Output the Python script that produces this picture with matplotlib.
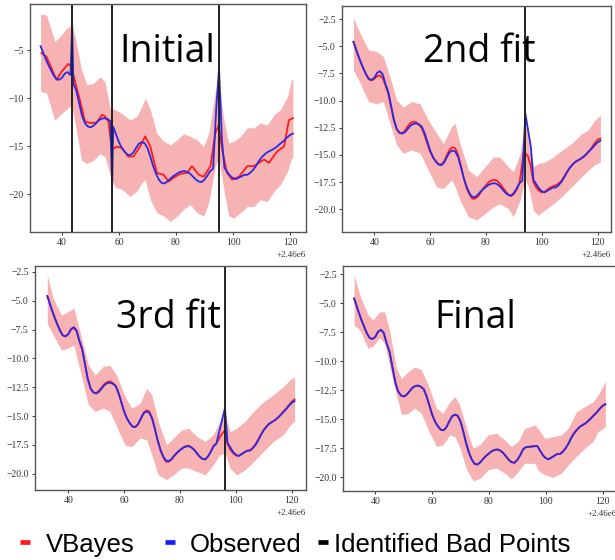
import numpy as np
import matplotlib
matplotlib.use("Agg")
import matplotlib.pyplot as plt
from matplotlib.lines import Line2D

OFFSET = 2.46e6

# ---------------- observed light curve (clean part) ----------------
obs_t = [32.5, 33, 34, 35, 36, 37, 38, 39, 40, 41, 42, 43, 44, 45, 46, 47, 48, 49, 50,
         51, 52, 53, 54, 55, 56, 57, 58, 59, 60, 61, 62, 63, 64, 65, 66, 67, 68, 69, 70,
         71, 72, 73, 74, 75, 76, 77, 78, 79, 80, 81, 82, 83, 84, 85, 86, 87, 88, 89, 90,
         91, 92, 93, 97, 98, 99, 100, 101, 102, 103, 104, 105, 106, 107, 108, 109, 110,
         111, 112, 113, 114, 115, 116, 117, 118, 119, 120, 121]
obs_v = [-4.6, -4.95, -5.7, -6.4, -7.0, -7.6, -8.0, -8.1, -7.9, -7.45, -7.3, -7.6, -8.5, -9.2,
         -10.5, -11.8, -12.6, -12.95, -13.05, -12.9, -12.6, -12.3, -12.15, -12.1, -12.2, -12.4,
         -13.0, -13.8, -14.6, -15.2, -15.6, -15.9, -15.95, -15.7, -15.2, -14.75, -14.6, -14.7,
         -15.2, -16.1, -17.1, -17.9, -18.5, -18.85, -18.9, -18.7, -18.4, -18.15, -17.95, -17.75,
         -17.65, -17.6, -17.7, -17.9, -18.2, -18.5, -18.7, -18.75, -18.5, -18.1, -17.6, -17.4,
         -17.3, -17.7, -18.1, -18.35, -18.45, -18.3, -18.15, -18.0, -18.0, -17.8, -17.5, -17.1,
         -16.6, -16.2, -15.9, -15.65, -15.5, -15.35, -15.15, -14.9, -14.65, -14.4, -14.1,
         -13.85, -13.7]

# outlying observations (bad points)
bad_t = [43.6, 57.6, 94.1, 95.1, 96.1]
bad_v = [-2.4, -19.4, -11.2, -6.9, -14.3]

# bad points still present in each panel / identified in each panel
present_bad = {"Initial": [43.6, 57.6, 94.1, 95.1, 96.1],
               "2nd fit": [94.1, 96.1],
               "3rd fit": [96.1],
               "Final": []}
identified_bad = {"Initial": [43.6, 57.6, 95.1],
                  "2nd fit": [94.1],
                  "3rd fit": [96.1],
                  "Final": []}

# ---------------- VBayes mean per fit ----------------
vb1_t = [32.8, 34.6, 38.1, 39.9, 42.2, 43.4, 44.6, 46.3, 48.1, 49.9, 52.2, 54.0, 55.1, 56.3,
         57.5, 59.2, 61.0, 63.3, 65.1, 67.4, 69.2, 71.0, 73.3, 75.7, 77.4, 79.2, 81.5, 83.9,
         85.6, 88.0, 89.7, 92.1, 93.8, 95.0, 96.2, 97.9, 99.7, 102.1, 105.0, 107.3, 110.9,
         112.6, 115.5, 117.9, 119.6, 121.0]
vb1_v = [-5.3, -5.7, -8.1, -7.25, -6.45, -6.7, -8.3, -10.2, -12.45, -12.6, -12.55, -11.75,
         -11.9, -12.45, -15.4, -15.05, -15.2, -16.1, -16.1, -15.05, -14.0, -15.05, -17.8, -18.0,
         -18.7, -18.3, -17.9, -17.8, -17.1, -18.0, -18.2, -17.1, -13.65, -12.8, -15.4, -17.8,
         -18.5, -18.2, -17.1, -17.1, -16.4, -16.75, -15.55, -15.05, -12.3, -12.1]

vb2_t = [32.5, 34, 36, 38, 39, 40, 41, 42, 43, 44, 45, 46, 47, 48, 49, 50, 51, 52, 53, 54, 55,
         56, 57, 58, 59, 60, 61, 62, 63, 64, 65, 66, 67, 68, 69, 70, 71, 72, 73, 74, 75, 76, 77,
         78, 79, 80, 81, 82, 83, 84, 85, 86, 87, 88, 89, 90, 91, 92, 93, 93.5, 95, 96, 97, 98,
         99, 100, 101, 102, 103, 104, 105, 106, 107, 108, 109, 110, 111, 112, 113, 114, 115,
         116, 117, 118, 119, 120, 121]
vb2_v = [-4.6, -5.75, -7.05, -8.05, -8.15, -8.0, -7.75, -7.7, -7.95, -8.6, -9.4, -10.6, -11.8,
         -12.65, -13.0, -13.0, -12.75, -12.35, -12.05, -11.95, -12.0, -12.25, -12.55, -13.2,
         -14.0, -14.7, -15.25, -15.6, -15.85, -15.9, -15.6, -15.0, -14.5, -14.3, -14.4, -15.0,
         -16.0, -17.1, -18.0, -18.6, -19.0, -19.05, -18.85, -18.5, -18.1, -17.8, -17.5, -17.35,
         -17.3, -17.4, -17.65, -18.0, -18.35, -18.65, -18.8, -18.6, -18.2, -17.6, -15.8, -14.75,
         -15.1, -16.0, -17.5, -18.0, -18.3, -18.45, -18.4, -18.2, -18.0, -17.9, -17.8, -17.65,
         -17.4, -17.0, -16.6, -16.2, -15.9, -15.65, -15.5, -15.35, -15.2, -14.95, -14.65, -14.3,
         -13.9, -13.6, -13.5]

vb3_t = [32.5, 34, 36, 38, 39, 40, 41, 42, 43, 44, 45, 46, 47, 48, 49, 50, 51, 52, 53, 54, 55,
         56, 57, 58, 59, 60, 61, 62, 63, 64, 65, 66, 67, 68, 69, 70, 71, 72, 73, 74, 75, 76, 77,
         78, 79, 80, 81, 82, 83, 84, 85, 86, 87, 88, 89, 90, 91, 92, 93, 94, 95, 96, 97, 98,
         99, 100, 101, 102, 103, 104, 105, 106, 107, 108, 109, 110, 111, 112, 113, 114, 115,
         116, 117, 118, 119, 120, 121]
vb3_v = [-4.6, -5.7, -7.0, -8.0, -8.1, -7.9, -7.5, -7.35, -7.65, -8.5, -9.25, -10.5, -11.8,
         -12.6, -12.95, -13.0, -12.8, -12.5, -12.2, -12.05, -12.0, -12.15, -12.4, -13.0, -13.8,
         -14.6, -15.2, -15.6, -15.9, -15.95, -15.7, -15.2, -14.7, -14.5, -14.6, -15.15, -16.1,
         -17.1, -17.95, -18.55, -18.95, -18.95, -18.75, -18.45, -18.15, -17.95, -17.75, -17.6,
         -17.55, -17.7, -17.9, -18.2, -18.5, -18.7, -18.75, -18.5, -18.1, -17.6, -17.35, -16.95,
         -16.55, -16.25, -17.4, -17.9, -18.2, -18.4, -18.45, -18.3, -18.15, -18.0, -17.95,
         -17.75, -17.45, -17.05, -16.6, -16.2, -15.9, -15.65, -15.5, -15.35, -15.15, -14.9,
         -14.6, -14.35, -14.05, -13.75, -13.55]

# ---------------- credible band per fit ----------------
band1_t = [32.5, 34.6, 37.5, 39.3, 41.6, 43.4, 44.6, 46.9, 48.7, 51.0, 53.4, 55.1, 56.9, 58.7,
           61.0, 64.0, 66.3, 68.0, 69.2, 71.0, 73.3, 75.7, 78.0, 80.4, 82.7, 85.0, 87.4, 89.7,
           91.5, 93.8, 95.0, 96.8, 98.5, 100.3, 102.6, 105.0, 107.3, 109.6, 112.0, 114.4,
           116.7, 119.1, 120.5, 121.0]
band1_up = [-1.26, -1.36, -4.1, -3.6, -2.75, -2.4, -3.6, -7.1, -8.6, -8.5, -7.8, -8.3, -11.1,
            -11.2, -11.6, -12.3, -11.9, -10.9, -10.0, -11.2, -13.7, -14.5, -14.9, -14.35, -13.7,
            -14.0, -14.35, -15.05, -13.65, -9.3, -8.1, -12.3, -14.7, -14.5, -14.0, -13.1, -13.1,
            -12.6, -12.8, -11.75, -11.2, -9.85, -8.1, -8.1]
band1_lo = [-9.3, -9.5, -12.3, -11.75, -11.2, -10.7, -12.6, -16.5, -16.8, -16.5, -15.8, -16.1,
            -18.0, -19.3, -19.5, -20.25, -19.7, -18.85, -18.5, -20.6, -21.95, -22.3, -22.85,
            -22.3, -21.6, -21.1, -21.95, -22.3, -20.9, -17.1, -16.25, -19.55, -22.3, -22.5,
            -21.95, -21.3, -21.3, -20.6, -20.8, -19.7, -19.0, -17.65, -16.25, -16.25]

band2_t = [32.5, 34.9, 37.9, 40.8, 43.2, 45.6, 48.0, 50.4, 53.4, 56.4, 59.3, 62.3, 64.7, 67.7,
           68.9, 70.7, 73.7, 76.7, 79.6, 82.6, 85.0, 88.0, 89.8, 92.2, 94.0, 95.2, 97.0, 98.7,
           101.1, 104.1, 107.1, 110.7, 114.3, 116.7, 119.0, 121.0]
band2_up = [-2.45, -3.8, -5.35, -5.5, -5.95, -7.8, -9.95, -10.6, -10.1, -10.3, -11.8, -13.0,
            -13.95, -12.4, -12.1, -13.95, -16.4, -17.0, -16.1, -15.2, -15.2, -16.1, -16.55,
            -14.9, -12.1, -12.9, -16.1, -15.8, -15.65, -15.2, -14.6, -13.95, -13.05, -12.7,
            -11.8, -11.35]
band2_lo = [-7.2, -8.4, -10.1, -10.3, -10.1, -12.1, -14.1, -14.85, -14.55, -14.85, -16.4,
            -17.95, -18.1, -17.3, -17.9, -19.2, -20.7, -21.0, -20.4, -19.8, -19.5, -19.95,
            -20.7, -19.2, -17.2, -17.95, -20.1, -20.55, -20.1, -19.5, -18.85, -17.95, -17.0,
            -16.4, -15.9, -15.65]

band3_t = [32.5, 34.6, 37.6, 40.0, 42.0, 44.2, 47.2, 49.6, 52.5, 54.9, 57.3, 60.3, 62.7, 65.7,
           68.1, 69.9, 72.2, 75.2, 77.6, 80.6, 83.0, 86.0, 89.0, 91.9, 94.3, 96.1, 97.9, 100.3,
           103.3, 106.3, 109.9, 113.4, 117.0, 119.4, 121.0]
band3_up = [-2.8, -4.8, -6.25, -5.95, -5.65, -7.7, -10.55, -11.45, -10.7, -10.6, -11.45, -13.3,
            -14.3, -13.9, -12.6, -13.15, -15.45, -17.5, -16.9, -16.2, -16.05, -16.75, -17.2,
            -16.6, -15.45, -14.9, -16.35, -16.05, -15.45, -14.6, -13.75, -13.15, -12.45, -11.85,
            -11.6]
band3_lo = [-7.0, -7.95, -9.3, -9.1, -8.85, -11.0, -14.0, -14.6, -14.3, -14.6, -15.9, -17.5,
            -17.65, -16.9, -17.05, -18.35, -20.1, -20.5, -20.1, -19.5, -19.5, -19.8, -20.1,
            -19.2, -18.35, -18.2, -19.5, -20.1, -19.65, -18.95, -18.05, -17.2, -16.6, -15.8,
            -15.45]

band4_t = [32.5, 34.5, 37.4, 39.2, 41.5, 43.3, 45.1, 47.4, 49.2, 51.5, 53.9, 56.2, 58.6, 61.5,
           63.8, 66.2, 68.0, 69.7, 72.1, 74.4, 76.8, 79.7, 82.6, 85.6, 87.9, 90.3, 92.6, 96.2,
           97.3, 99.7, 102.6, 105.5, 107.9, 110.8, 113.8, 116.7, 118.5, 121.0]
band4_up = [-2.6, -4.3, -6.0, -6.45, -5.75, -5.75, -7.45, -10.6, -11.5, -10.9, -10.5, -10.75,
            -12.05, -14.05, -14.5, -13.5, -13.05, -13.75, -15.8, -17.5, -17.2, -16.35, -16.2,
            -16.8, -17.35, -16.9, -15.8, -15.5, -15.8, -16.65, -16.5, -16.35, -15.8, -14.35,
            -13.9, -13.5, -12.9, -11.75]
band4_lo = [-6.9, -7.3, -8.9, -8.7, -8.0, -8.5, -10.5, -12.9, -14.6, -14.5, -14.05, -14.5,
            -15.9, -17.35, -17.2, -16.35, -16.5, -17.4, -19.3, -20.3, -20.1, -19.35, -19.2,
            -19.65, -20.15, -19.5, -18.8, -18.8, -19.4, -19.8, -20.0, -19.65, -18.95, -18.2,
            -17.5, -16.9, -16.05, -15.65]

panels = ["Initial", "2nd fit", "3rd fit", "Final"]
legend_labels = ["VBayes", "Observed", "Identified Bad Points"]
legend_colors = ["#ff1a1a", "#1a1aff", "black"]

vb_t = {"Initial": vb1_t, "2nd fit": vb2_t, "3rd fit": vb3_t, "Final": obs_t}
vb_v = {"Initial": vb1_v, "2nd fit": vb2_v, "3rd fit": vb3_v, "Final": obs_v}
bands = {"Initial": (band1_t, band1_up, band1_lo), "2nd fit": (band2_t, band2_up, band2_lo),
         "3rd fit": (band3_t, band3_up, band3_lo), "Final": (band4_t, band4_up, band4_lo)}

# ---------------- layout ----------------
W, H = 615, 560
rects_px = {"Initial": (30, 4, 306, 232), "2nd fit": (342, 6, 611, 232),
            "3rd fit": (35, 266, 306, 490), "Final": (343, 266, 617, 491)}
xlims = {"Initial": (28.8, 125.6), "2nd fit": (28.4, 124.8),
         "3rd fit": (28.1, 125.1), "Final": (28.6, 125.1)}
ylims = {"Initial": (-23.96, -0.2), "2nd fit": (-22.1, -1.3),
         "3rd fit": (-21.4, -2.0), "Final": (-21.18, -1.81)}
yticks = {"Initial": [-20, -15, -10, -5],
          "2nd fit": [-20, -17.5, -15, -12.5, -10, -7.5, -5, -2.5],
          "3rd fit": [-20, -17.5, -15, -12.5, -10, -7.5, -5, -2.5],
          "Final": [-20, -17.5, -15, -12.5, -10, -7.5, -5, -2.5]}
# title centre x and baseline y (pixels)
title_pos = {"Initial": (167, 62), "2nd fit": (479, 62), "3rd fit": (168, 328),
             "Final": (475, 328)}

fig = plt.figure(figsize=(W / 100, H / 100), dpi=100)

RED = "#ff1a1a"
BLUE = "#2a2ae6"
serif = "Liberation Serif"

for name in panels:
    l, t, r, b = rects_px[name]
    ax = fig.add_axes([l / W, 1 - b / H, (r - l) / W, (b - t) / H])
    bt, up, lo = bands[name]
    ax.fill_between(np.array(bt) + OFFSET, up, lo, color="#f59a9a", alpha=0.75, lw=0)
    # observed series with the bad points still present
    ot = list(obs_t) + [bt_ for bt_ in bad_t if bt_ in present_bad[name]]
    ov = list(obs_v) + [bv for bt_, bv in zip(bad_t, bad_v) if bt_ in present_bad[name]]
    order = np.argsort(ot)
    ot = np.array(ot)[order] + OFFSET
    ov = np.array(ov)[order]
    ax.plot(np.array(vb_t[name]) + OFFSET, vb_v[name], color=RED, lw=1.3)
    ax.plot(ot, ov, color=BLUE, lw=1.3)
    for xb in identified_bad[name]:
        ax.axvline(xb + OFFSET, color="#222222", lw=1.4)
    ax.set_xlim(xlims[name][0] + OFFSET, xlims[name][1] + OFFSET)
    ax.set_ylim(*ylims[name])
    ax.set_xticks(np.array([40, 60, 80, 100, 120]) + OFFSET)
    ax.set_yticks(yticks[name])
    ax.tick_params(length=2.5, width=0.7, pad=2, labelsize=7, colors="#333333")
    for lab in ax.get_xticklabels() + ax.get_yticklabels():
        lab.set_family(serif)
    off = ax.xaxis.get_offset_text()
    off.set_family(serif)
    off.set_fontsize(6.5)
    off.set_color("#333333")
    for sp in ax.spines.values():
        sp.set_color("#555555")
        sp.set_linewidth(1.0)
    tx, ty = title_pos[name]
    fig.text(tx / W, 1 - ty / H, name, ha="center", va="baseline", fontsize=27,
             family="Open Sans", color="black")

# legend row at the bottom (short dash + label)
dash_x = [20, 165, 318]
text_x = [46, 190, 334]
for dx, tx, lab, col in zip(dash_x, text_x, legend_labels, legend_colors):
    fig.add_artist(Line2D([dx / W, (dx + 10) / W], [1 - 542 / H, 1 - 542 / H],
                          transform=fig.transFigure, color=col, lw=3.4,
                          solid_capstyle="butt"))
    fig.text(tx / W, 1 - 552 / H, lab, ha="left", va="baseline", fontsize=18.5,
             family="Liberation Sans", color="black")

fig.savefig("out.png", dpi=100)
